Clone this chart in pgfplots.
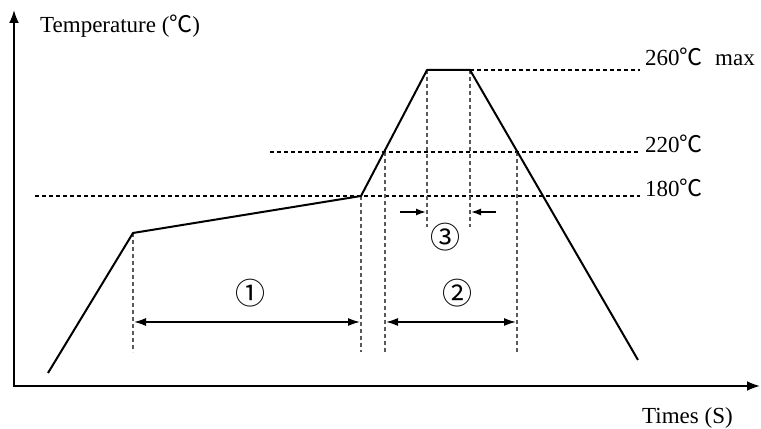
\documentclass[border=0pt]{standalone}
\usepackage{pgfplots}
\pgfplotsset{compat=1.18}
\usetikzlibrary{arrows.meta}
\usepackage{fontspec}
\setmainfont{Liberation Serif}
\newfontfamily\cjk{Noto Sans CJK SC}
\newcommand{\degc}{{\cjk ℃}}

\begin{document}
\begin{tikzpicture}[
    lbl/.style={font=\fontsize{23}{27}\selectfont, inner sep=0pt, anchor=base west},
    circ/.style={font=\cjk\fontsize{30}{34}\selectfont, inner sep=0pt},
]
\begin{axis}[
    scale only axis, width=761pt, height=428pt,
    xmin=0, xmax=761, ymin=0, ymax=428,
    hide axis, clip=false,
]
\path (rel axis cs:0,0) rectangle (rel axis cs:1,1);
% axes
\draw[line width=2pt, -{Latex[length=13pt,width=10pt]}] (axis cs:14,42) -- (axis cs:14,418);
\draw[line width=2pt, -{Latex[length=13pt,width=10pt]}] (axis cs:13,42) -- (axis cs:760,42);
% guide lines
\draw[black, line width=1.2pt, dash pattern=on 4pt off 3pt] (axis cs:35,232) -- (axis cs:640,232);
\draw[black, line width=1.2pt, dash pattern=on 4pt off 3pt] (axis cs:270,276) -- (axis cs:640,276);
\draw[black, line width=1.2pt, dash pattern=on 4pt off 3pt] (axis cs:470,358) -- (axis cs:640,358);
\draw[black!65, line width=1.2pt, dash pattern=on 4pt off 3pt] (axis cs:133,195) -- (axis cs:133,76);
\draw[black!65, line width=1.2pt, dash pattern=on 4pt off 3pt] (axis cs:361,232) -- (axis cs:361,76);
\draw[black!65, line width=1.2pt, dash pattern=on 4pt off 3pt] (axis cs:385,276) -- (axis cs:385,76);
\draw[black!65, line width=1.2pt, dash pattern=on 4pt off 3pt] (axis cs:517,276) -- (axis cs:517,76);
\draw[black!65, line width=1.2pt, dash pattern=on 4pt off 3pt] (axis cs:427,358) -- (axis cs:427,201);
\draw[black!65, line width=1.2pt, dash pattern=on 4pt off 3pt] (axis cs:470,358) -- (axis cs:470,201);
% reflow profile
\addplot[black, line width=2pt, line join=round] coordinates {
    (48,55) (133,195) (361,232) (427,358) (470,358) (638,68)
};
% zone arrows
\draw[line width=1.5pt, {Latex[length=12pt,width=8pt]}-{Latex[length=12pt,width=8pt]}] (axis cs:134,106) -- (axis cs:360,106);
\draw[line width=1.5pt, {Latex[length=12pt,width=8pt]}-{Latex[length=12pt,width=8pt]}] (axis cs:386,106) -- (axis cs:516,106);
\draw[line width=1.5pt, -{Latex[length=10pt,width=7pt]}] (axis cs:400,216) -- (axis cs:426,216);
\draw[line width=1.5pt, -{Latex[length=10pt,width=7pt]}] (axis cs:496,216) -- (axis cs:471,216);
% labels
\node[lbl] at (axis cs:40,395) {Temperature (\degc)};
\node[lbl] at (axis cs:645,362) {260\degc};
\node[lbl] at (axis cs:715,362) {max};
\node[lbl] at (axis cs:645,275) {220\degc};
\node[lbl] at (axis cs:645,231) {180\degc};
\node[lbl] at (axis cs:642,4) {Times (S)};
\node[circ] at (axis cs:250,135) {①};
\node[circ] at (axis cs:457,135) {②};
\node[circ] at (axis cs:445,191) {③};
\end{axis}
\end{tikzpicture}
\end{document}
